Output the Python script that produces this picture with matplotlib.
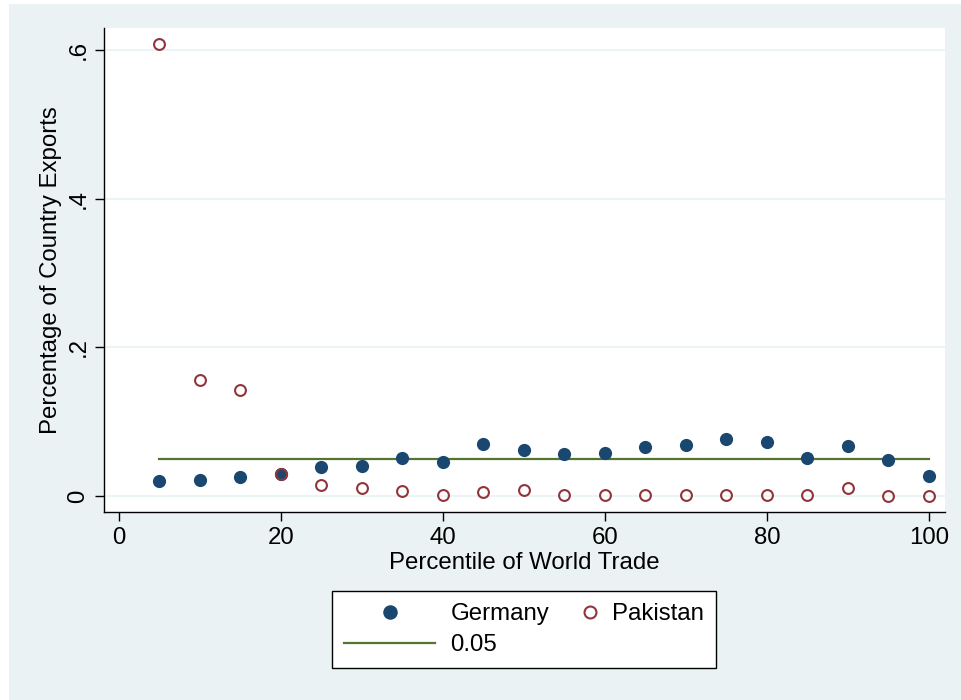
import numpy as np
import matplotlib
matplotlib.use("Agg")
import matplotlib.pyplot as plt
from matplotlib.patches import Rectangle
from matplotlib.legend_handler import HandlerLine2D

plt.rcParams['font.family'] = ['Liberation Sans', 'DejaVu Sans']

# share of each country's exports falling in each percentile bin of world trade
percentile = [5, 10, 15, 20, 25, 30, 35, 40, 45, 50,
              55, 60, 65, 70, 75, 80, 85, 90, 95, 100]
germany = [0.020, 0.0215, 0.026, 0.0296, 0.039, 0.040, 0.0507, 0.0457, 0.070, 0.0623,
           0.056, 0.0574, 0.066, 0.0686, 0.077, 0.0722, 0.0507, 0.0668, 0.048, 0.0274]
pakistan = [0.6085, 0.1565, 0.142, 0.0296, 0.0144, 0.0108, 0.0067, 0.0013, 0.0058, 0.008,
            0.001, 0.001, 0.001, 0.001, 0.0018, 0.001, 0.001, 0.0108, 0.0, 0.0]
reference = 0.05

xticks = [0, 20, 40, 60, 80, 100]
yticks = [0, 0.2, 0.4, 0.6]
ytick_labels = ['0', '.2', '.4', '.6']

NAVY = '#1A476F'
MAROON = '#90353B'
GREEN = '#55752F'
BG = '#EAF2F3'

W, H = 961, 700
fig = plt.figure(figsize=(W / 100, H / 100), dpi=100, facecolor='white')
fig.patches.append(Rectangle((9 / W, 0), (W - 9) / W, (H - 4) / H,
                             transform=fig.transFigure, facecolor=BG,
                             edgecolor='none', zorder=-1))

ax = fig.add_axes([104 / W, (H - 512) / H, (945 - 104) / W, (512 - 28) / H])
ax.set_facecolor('white')

ax.plot(percentile, germany, 'o', color=NAVY, markersize=9.5, markeredgewidth=0,
        label='Germany', zorder=3)
ax.plot(percentile, pakistan, 'o', markerfacecolor='none', markeredgecolor=MAROON,
        markersize=7.8, markeredgewidth=1.5, label='Pakistan', zorder=4)
ax.plot([percentile[0], percentile[-1]], [reference, reference], color=GREEN,
        linewidth=1.6, label='0.05', zorder=2)

ax.set_xlim(-1.85, 101.98)
ax.set_ylim(-0.0215, 0.6296)
ax.set_xticks(xticks)
ax.set_yticks(yticks)
ax.set_yticklabels(ytick_labels, rotation=90, va='center')
ax.grid(axis='y', color=BG, linewidth=1.2, zorder=1)
ax.set_axisbelow(True)

for side in ['top', 'right']:
    ax.spines[side].set_visible(False)
for side in ['left', 'bottom']:
    ax.spines[side].set_linewidth(1.0)
    ax.spines[side].set_color('black')

ax.tick_params(axis='both', direction='out', length=6.5, width=1.0,
               labelsize=17.3, colors='black')
ax.tick_params(axis='x', pad=4)
ax.tick_params(axis='y', pad=4)

ax.set_xlabel('Percentile of World Trade', fontsize=17.3, labelpad=2.5)
ax.set_ylabel('Percentage of Country Exports', fontsize=17.3, labelpad=4)


class EndMarkerHandler(HandlerLine2D):
    # puts the single marker near the right end of the handle box
    def get_xdata(self, legend, xdescent, ydescent, width, height, fontsize):
        x = -xdescent + width - 0.3 * fontsize
        return [x - 0.01, x + 0.01], [x]


h_ger, h_pak, h_ref = ax.get_lines()
leg = fig.legend([h_ger, h_ref, h_pak], ['Germany', '0.05', 'Pakistan'],
                 ncol=2, loc='center', bbox_to_anchor=(524 / W, 1 - 629.5 / H),
                 fontsize=17.3, frameon=True, fancybox=False, framealpha=1,
                 edgecolor='black', facecolor='white', handlelength=3.8,
                 handletextpad=0.62, columnspacing=-1.8, borderpad=0.5,
                 labelspacing=0.38, numpoints=1, markerscale=1.1,
                 handler_map={h_pak: EndMarkerHandler(numpoints=1)})
leg.get_frame().set_linewidth(1.0)

fig.savefig('out.png', dpi=100, facecolor=fig.get_facecolor())
